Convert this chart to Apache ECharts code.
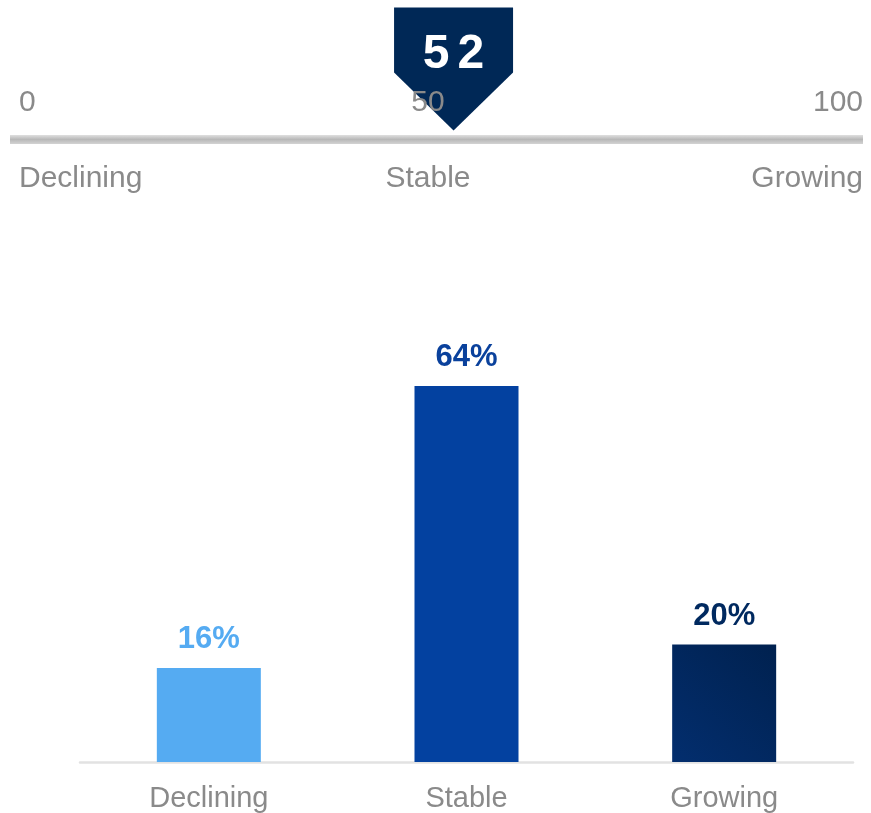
<!DOCTYPE html>
<html>
<head>
<meta charset="utf-8">
<script src="https://cdn.jsdelivr.net/npm/echarts@6/dist/echarts.min.js"></script>
<style>
  html, body { margin: 0; padding: 0; background: #ffffff; }
  #chart { width: 871px; height: 813px; }
</style>
</head>
<body>
<div id="chart"></div>
<script>
// Distribution of responses
const categories = ['Declining', 'Stable', 'Growing'];
const shares = [16, 64, 20];

// Index scale shown above the bars
const scaleTicks = [0, 50, 100];
const scaleNames = ['Declining', 'Stable', 'Growing'];
const indexScore = 52;

const FONT = '"Liberation Sans", Arial, Helvetica, sans-serif';
const GREY = '#8a8a8a';
const barColors = [
  '#55abf2',
  '#0341a0',
  new echarts.graphic.LinearGradient(1, 0, 0, 1, [
    { offset: 0, color: '#00214f' },
    { offset: 1, color: '#032e6e' }
  ])
];
const labelColors = ['#55abf2', '#0a419c', '#00295f'];

const chart = echarts.init(document.getElementById('chart'), null, { renderer: 'canvas' });

const tickRich = {
  l: { fontSize: 30, color: GREY, fontFamily: FONT, padding: [0, 0, 0, 9] },
  c: { fontSize: 30, color: GREY, fontFamily: FONT, padding: [0, 17, 0, 0] },
  r: { fontSize: 30, color: GREY, fontFamily: FONT, padding: [0, 0, 0, 0] }
};
const tickKey = (v) => {
  const i = scaleTicks.indexOf(v);
  return i === 0 ? 'l' : (i === scaleTicks.length - 1 ? 'r' : 'c');
};

chart.setOption({
  animation: false,
  textStyle: { fontFamily: FONT },
  grid: [
    { left: 80, right: 18, top: 292, bottom: 51 },
    { left: 10, right: 8, top: 138.5, height: 1 }
  ],
  xAxis: [
    {
      type: 'category',
      gridIndex: 0,
      data: categories,
      axisLine: { show: true, lineStyle: { color: '#e2e2e2', width: 2.5 } },
      axisTick: { show: false },
      axisLabel: { fontSize: 29, color: GREY, fontFamily: FONT, margin: 22 }
    },
    {
      type: 'value',
      gridIndex: 1,
      position: 'top',
      min: scaleTicks[0],
      max: scaleTicks[scaleTicks.length - 1],
      interval: scaleTicks[1] - scaleTicks[0],
      z: 5,
      axisLine: { show: false },
      axisTick: { show: false },
      splitLine: { show: false },
      axisLabel: {
        margin: 21,
        alignMinLabel: 'left',
        alignMaxLabel: 'right',
        formatter: (v) => '{' + tickKey(v) + '|' + v + '}',
        rich: tickRich
      }
    },
    {
      type: 'value',
      gridIndex: 1,
      position: 'bottom',
      min: scaleTicks[0],
      max: scaleTicks[scaleTicks.length - 1],
      interval: scaleTicks[1] - scaleTicks[0],
      axisLine: {
        show: true,
        lineStyle: {
          width: 9,
          cap: 'butt',
          color: new echarts.graphic.LinearGradient(0, 134.5, 0, 143.5, [
            { offset: 0, color: '#e4e4e4' },
            { offset: 0.55, color: '#b8b8b8' },
            { offset: 1, color: '#d0d0d0' }
          ], true)
        }
      },
      axisTick: { show: false },
      splitLine: { show: false },
      axisLabel: {
        margin: 24,
        alignMinLabel: 'left',
        alignMaxLabel: 'right',
        formatter: (v) => '{' + tickKey(v) + '|' + scaleNames[scaleTicks.indexOf(v)] + '}',
        rich: tickRich
      }
    }
  ],
  yAxis: [
    { type: 'value', gridIndex: 0, min: 0, max: 80, show: false },
    { type: 'value', gridIndex: 1, min: 0, max: 1, show: false }
  ],
  series: [
    {
      type: 'bar',
      xAxisIndex: 0,
      yAxisIndex: 0,
      barWidth: 104,
      data: shares.map((v, i) => ({
        value: v,
        itemStyle: { color: barColors[i] },
        label: { color: labelColors[i] }
      })),
      label: {
        show: true,
        position: 'top',
        distance: 13,
        formatter: '{c}%',
        fontSize: 31,
        fontWeight: 'bold',
        fontFamily: FONT
      }
    },
    {
      // Pointer marking the index score on the scale
      type: 'custom',
      xAxisIndex: 1,
      yAxisIndex: 1,
      z: 3,
      data: [[indexScore, 0]],
      renderItem: (params, api) => {
        const p = api.coord([api.value(0), 0]);
        const x = p[0];
        const tip = p[1] - 9;
        const hw = 59.5;
        const digits = String(api.value(0)).split('');
        return {
          type: 'group',
          children: [
            {
              type: 'polygon',
              shape: {
                points: [
                  [x - hw, tip - 123],
                  [x + hw, tip - 123],
                  [x + hw, tip - 58],
                  [x, tip],
                  [x - hw, tip - 58]
                ]
              },
              style: { fill: '#002856' }
            },
            {
              type: 'text',
              x: x,
              y: tip - 76,
              style: {
                text: digits.map((d, i) => '{d' + (i === 0 ? 'a' : 'b') + '|' + d + '}').join(''),
                align: 'center',
                verticalAlign: 'middle',
                fill: '#ffffff',
                fontSize: 48,
                fontWeight: 'bold',
                fontFamily: FONT,
                rich: {
                  da: { fill: '#ffffff', fontSize: 48, fontWeight: 'bold', fontFamily: FONT, padding: [0, 4, 0, 0] },
                  db: { fill: '#ffffff', fontSize: 48, fontWeight: 'bold', fontFamily: FONT, padding: [0, 0, 0, 4] }
                }
              }
            }
          ]
        };
      }
    }
  ]
});
</script>
</body>
</html>
